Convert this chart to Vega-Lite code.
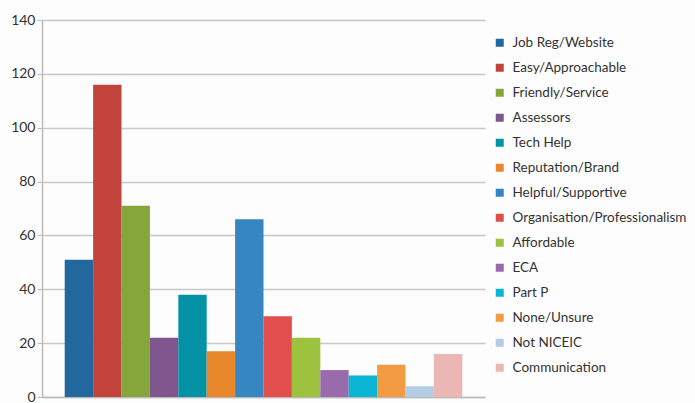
{
  "$schema": "https://vega.github.io/schema/vega-lite/v6.json",
  "width": 443,
  "height": 377,
  "autosize": {"type": "none"},
  "padding": {"left": 42, "top": 20, "right": 210, "bottom": 6},
  "background": "#fdfdfd",
  "data": {
    "values": [
      {"category": "Job Reg/Website", "value": 51},
      {"category": "Easy/Approachable", "value": 116},
      {"category": "Friendly/Service", "value": 71},
      {"category": "Assessors", "value": 22},
      {"category": "Tech Help", "value": 38},
      {"category": "Reputation/Brand", "value": 17},
      {"category": "Helpful/Supportive", "value": 66},
      {"category": "Organisation/Professionalism", "value": 30},
      {"category": "Affordable", "value": 22},
      {"category": "ECA", "value": 10},
      {"category": "Part P", "value": 8},
      {"category": "None/Unsure", "value": 12},
      {"category": "Not NICEIC", "value": 4},
      {"category": "Communication", "value": 16}
    ]
  },
  "mark": {"type": "bar"},
  "encoding": {
    "x": {
      "field": "category",
      "type": "nominal",
      "sort": null,
      "scale": {"paddingInner": 0, "paddingOuter": 0.8},
      "axis": {"title": null, "labels": false, "ticks": false, "domainColor": "#bbbbbb", "domainWidth": 1.5}
    },
    "y": {
      "field": "value",
      "type": "quantitative",
      "scale": {"domain": [0, 140]},
      "axis": {
        "title": null,
        "values": [0, 20, 40, 60, 80, 100, 120, 140],
        "grid": true,
        "gridColor": "#c8c8c8",
        "gridWidth": 1.5,
        "domainColor": "#bbbbbb",
        "domainWidth": 1.5,
        "tickColor": "#bbbbbb",
        "tickSize": 5,
        "labelFont": "Lato",
        "labelFontSize": 14,
        "labelColor": "#333333",
        "labelPadding": 2
      }
    },
    "color": {
      "field": "category",
      "type": "nominal",
      "sort": null,
      "scale": {
        "domain": ["Job Reg/Website", "Easy/Approachable", "Friendly/Service", "Assessors", "Tech Help", "Reputation/Brand", "Helpful/Supportive", "Organisation/Professionalism", "Affordable", "ECA", "Part P", "None/Unsure", "Not NICEIC", "Communication"],
        "range": ["#22689e", "#c2433b", "#84a63a", "#80568e", "#0592a7", "#e8872b", "#3686c2", "#e04f4b", "#9dc23f", "#9a6bac", "#0bb5d5", "#f39b43", "#b3cbe4", "#ebb7b5"]
      },
      "legend": {
        "title": null,
        "orient": "none",
        "legendX": 451,
        "legendY": 16,
        "padding": 0,
        "symbolType": "square",
        "symbolSize": 64,
        "symbolStrokeWidth": 0,
        "labelFont": "Lato",
        "labelFontSize": 13.5,
        "labelColor": "#333333",
        "labelOffset": 6,
        "rowPadding": 10,
        "labelLimit": 300
      }
    }
  },
  "config": {"view": {"stroke": null}}
}
